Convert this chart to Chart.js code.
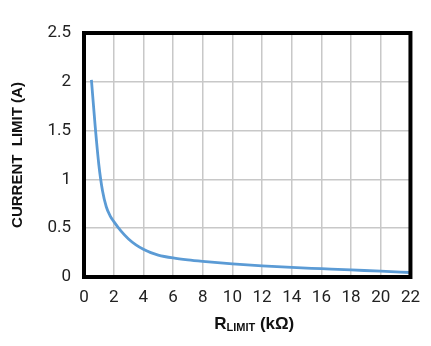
<!DOCTYPE html>
<html><head><meta charset="utf-8">
<script src="https://cdn.jsdelivr.net/npm/chart.js@4"></script>
<style>html,body{margin:0;padding:0;background:#fff}#wrap{width:431px;height:346px}</style>
</head><body><div id="wrap"><canvas id="c" width="431" height="346"></canvas></div>
<script>
const rLimit = [0.5, 0.75, 1.0, 1.25, 1.5, 1.75, 2, 2.5, 3, 3.5, 4, 4.5, 5, 6, 7, 8, 10, 12, 14, 16, 18, 20, 22];
const currentLimit = [2.02, 1.55, 1.15, 0.88, 0.72, 0.63, 0.57, 0.47, 0.39, 0.33, 0.285, 0.25, 0.225, 0.195, 0.175, 0.16, 0.135, 0.115, 0.098, 0.085, 0.072, 0.06, 0.046];
const xTicks = [0,2,4,6,8,10,12,14,16,18,20,22];
const yTicks = [0,0.5,1,1.5,2,2.5];
const yTitle = 'CURRENT  LIMIT (A)';
const xTitleMain = 'R', xTitleSub = 'LIMIT', xTitleUnit = ' (kΩ)';

const frame = {
  id: 'frame',
  afterDatasetsDraw(chart) {
    const a = chart.chartArea, ctx = chart.ctx;
    ctx.save();
    ctx.strokeStyle = '#000'; ctx.lineWidth = 4;
    ctx.strokeRect(a.left, a.top, a.right - a.left, a.bottom - a.top);
    ctx.fillStyle = '#111';
    ctx.textBaseline = 'alphabetic';
    const f1 = 'bold 17px "Liberation Sans", Arial, sans-serif';
    const f2 = 'bold 11px "Liberation Sans", Arial, sans-serif';
    ctx.font = f1; const w1 = ctx.measureText(xTitleMain).width, w3 = ctx.measureText(xTitleUnit).width;
    ctx.font = f2; const w2 = ctx.measureText(xTitleSub).width;
    const total = w1 + w2 + w3;
    let x = (a.left + a.right) / 2 + 7 - total / 2;
    const y = 329;
    ctx.font = f1; ctx.textAlign = 'left'; ctx.fillText(xTitleMain, x, y); x += w1;
    ctx.font = f2; ctx.fillText(xTitleSub, x, y + 2); x += w2;
    ctx.font = f1; ctx.fillText(xTitleUnit, x, y);
    ctx.restore();
  }
};

new Chart(document.getElementById('c'), {
  type: 'line',
  data: { datasets: [{
    data: rLimit.map((x, i) => ({x, y: currentLimit[i]})),
    borderColor: '#5b9bd5', borderWidth: 2.8, pointRadius: 0,
    cubicInterpolationMode: 'monotone', fill: false
  }]},
  options: {
    responsive: false, animation: false, devicePixelRatio: 1,
    layout: { padding: { top: 33, right: 19, left: 0, bottom: 0 } },
    plugins: { legend: { display: false }, tooltip: { enabled: false } },
    scales: {
      x: {
        type: 'linear', min: 0, max: 22,
        afterBuildTicks: s => { s.ticks = xTicks.map(v => ({value: v})); },
        afterFit: s => { s.height = 69; },
        grid: { color: '#c8c8c8', lineWidth: 1.5, drawTicks: false },
        border: { color: '#000', width: 4 },
        ticks: { padding: 11, color: '#222', font: { family: 'Roboto', size: 17 }, maxRotation: 0,
          callback: v => String(v) }
      },
      y: {
        min: 0, max: 2.5,
        afterBuildTicks: s => { s.ticks = yTicks.map(v => ({value: v})); },
        afterFit: s => { s.width = 84; },
        grid: { color: '#c8c8c8', lineWidth: 1.5, drawTicks: false },
        border: { color: '#000', width: 4 },
        ticks: { padding: 13, color: '#222', font: { family: 'Roboto', size: 17 },
          callback: v => String(v) },
        title: { display: true, text: yTitle, color: '#111', padding: { top: 9, bottom: 0 },
          font: { family: '"Liberation Sans", Arial, sans-serif', size: 15, weight: 'bold' } }
      }
    }
  },
  plugins: [frame]
});
</script></body></html>
